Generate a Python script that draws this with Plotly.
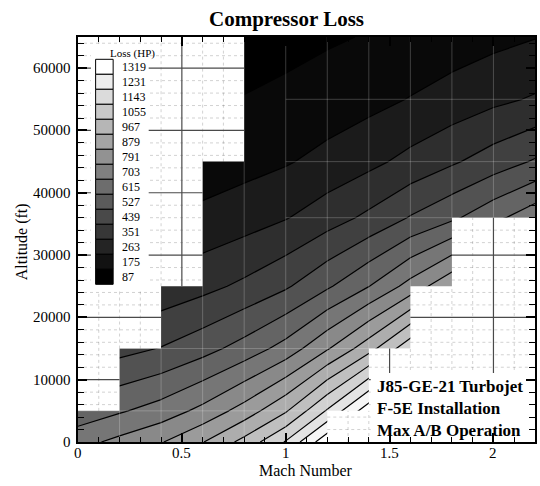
import plotly.graph_objects as go

# ---------------- data ----------------
mach = [0.0, 0.2, 0.4, 0.6, 0.8, 1.0, 1.2, 1.4, 1.6, 1.8, 2.0, 2.2]
altitude_ft = [0, 5000, 15000, 25000, 36000, 45000, 55000, 65000]

# compressor loss (HP): one row per altitude, one column per Mach number
loss_hp = [
    [672, 727, 785, 875, 995, 1150, 1385, 1651, 1982, 2330, 2700, 3080],
    [559, 605, 653, 728, 828, 957, 1152, 1374, 1649, 1939, 2246, 2563],
    [379, 410, 443, 494, 562, 649, 782, 932, 1118, 1315, 1524, 1738],
    [249, 270, 291, 325, 369, 427, 514, 613, 736, 865, 1002, 1143],
    [151, 163, 176, 196, 223, 258, 311, 370, 445, 510, 590, 672],
    [98, 106, 114, 127, 145, 167, 202, 240, 289, 339, 393, 448],
    [60.5, 65.5, 70.7, 78.8, 89.6, 103.6, 124.8, 148.8, 178.6, 209.9, 243.3, 272],
    [37.4, 40.5, 43.7, 48.7, 55.4, 64.1, 77.1, 92.0, 110.4, 129.8, 150.4, 171.6],
]

loss_levels = [87, 175, 263, 351, 439, 527, 615, 703, 791, 879, 967, 1055, 1143, 1231, 1319]

# operating envelope, one entry per Mach interval
env_mach_lo = [0.0, 0.2, 0.4, 0.6, 0.8, 1.0, 1.2, 1.4, 1.6, 1.8, 2.0]
env_mach_hi = [0.2, 0.4, 0.6, 0.8, 1.0, 1.2, 1.4, 1.6, 1.8, 2.0, 2.2]
env_alt_floor = [0, 0, 0, 0, 0, 0, 5000, 15000, 25000, 36000, 36000]
env_alt_ceiling = [5000, 15000, 25000, 45000, 65000, 65000, 65000, 65000, 65000, 65000, 65000]

# computational mesh rows shown over the flood: altitude and first Mach
mesh_row_alt = [5000, 15000, 36000, 45000, 55000]
mesh_row_from_mach = [0.0, 0.2, 1.0, 1.0, 1.0]

x_tick_vals = [0, 0.5, 1, 1.5, 2]
x_tick_text = ["0", "0.5", "1", "1.5", "2"]
y_tick_vals = [0, 10000, 20000, 30000, 40000, 50000, 60000]
y_tick_text = ["0", "10000", "20000", "30000", "40000", "50000", "60000"]
x_minor_step = 0.1
y_minor_step = 2000

# ---------------- geometry ----------------
W, H = 540, 486
ML, MR, MT, MB = 78, 3, 37, 44
PW, PH = W - ML - MR, H - MT - MB
X_MAX, Y_MAX = 2.2, 65000
FONT = "Liberation Serif"
EPS = 1e-9


def px_x(px):
    return (px - ML) / PW


def px_y(py):
    return (H - MB - py) / PH


def px_to_mach(px):
    return (px - ML) / PW * X_MAX


def px_to_alt(py):
    return (H - MB - py) / PH * Y_MAX


def bands_at(m):
    return [i for i in range(len(env_mach_lo))
            if env_mach_lo[i] - EPS <= m <= env_mach_hi[i] + EPS]


def vertical_outside(m):
    ids = bands_at(m)
    lo = min(env_alt_floor[i] for i in ids)
    hi = max(env_alt_ceiling[i] for i in ids)
    segs = []
    if lo > 0:
        segs.append((0, lo))
    if hi < Y_MAX:
        segs.append((hi, Y_MAX))
    return segs


def vertical_inside(m):
    ids = bands_at(m)
    lo = max(env_alt_floor[i] for i in ids)
    hi = min(env_alt_ceiling[i] for i in ids)
    return [(lo, hi)] if hi > lo else []


def horizontal_runs(a, outside=True, start=0.0):
    runs = []
    for i in range(len(env_mach_lo)):
        if env_mach_hi[i] <= start + EPS:
            continue
        if outside:
            keep = a > env_alt_ceiling[i] or a < env_alt_floor[i]
        else:
            keep = env_alt_floor[i] <= a <= env_alt_ceiling[i]
        if keep:
            x0, x1 = max(env_mach_lo[i], start), env_mach_hi[i]
            if runs and abs(runs[-1][1] - x0) < EPS:
                runs[-1] = (runs[-1][0], x1)
            else:
                runs.append((x0, x1))
    return runs


def polyline(vlines, hlines):
    xs, ys = [], []
    for m, segs in vlines:
        for a0, a1 in segs:
            xs += [m, m, None]
            ys += [a0, a1, None]
    for a, runs in hlines:
        for m0, m1 in runs:
            xs += [m0, m1, None]
            ys += [a, a, None]
    return xs, ys


# ---------------- colours ----------------
n_lv = len(loss_levels)
band_gray = [0] + [round(255 * (k - 0.5) / (n_lv - 1)) for k in range(1, n_lv)] + [255]
colorscale = [[k / (len(band_gray) - 1), f"rgb({g},{g},{g})"] for k, g in enumerate(band_gray)]


def level_gray(v):
    g = round(255 * (v - loss_levels[0]) / (loss_levels[-1] - loss_levels[0]))
    return f"rgb({g},{g},{g})"


fig = go.Figure()

# flooded contour of the loss field
fig.add_trace(go.Contour(
    x=mach, y=altitude_ft, z=loss_hp,
    autocontour=False,
    contours=dict(start=loss_levels[0], end=loss_levels[-1],
                  size=loss_levels[1] - loss_levels[0],
                  coloring="fill", showlines=True),
    colorscale=colorscale, showscale=False,
    line=dict(color="black", width=1.2, smoothing=0),
    hoverinfo="skip",
))

# mesh lines over the flood
mesh_v = [(m, vertical_inside(m)) for m in mach[1:-1]]
mesh_h = [(a, horizontal_runs(a, outside=False, start=s))
          for a, s in zip(mesh_row_alt, mesh_row_from_mach)]
mx, my = polyline(mesh_v, mesh_h)
fig.add_trace(go.Scatter(x=mx, y=my, mode="lines", hoverinfo="skip",
                         line=dict(color="rgba(255,255,255,0.22)", width=1)))

# blank out everything outside the envelope
top_x, top_y = [-0.02], [Y_MAX + 1000]
bot_x, bot_y = [-0.02], [-1000]
for i in range(len(env_mach_lo)):
    x0 = env_mach_lo[i] if i > 0 else -0.02
    x1 = env_mach_hi[i] if i < len(env_mach_lo) - 1 else X_MAX + 0.02
    top_x += [x0, x1]
    top_y += [env_alt_ceiling[i], env_alt_ceiling[i]]
    bot_x += [x0, x1]
    bot_y += [env_alt_floor[i], env_alt_floor[i]]
top_x += [X_MAX + 0.02, -0.02]
top_y += [Y_MAX + 1000, Y_MAX + 1000]
bot_x += [X_MAX + 0.02, -0.02]
bot_y += [-1000, -1000]
for px_, py_ in ((top_x, top_y), (bot_x, bot_y)):
    fig.add_trace(go.Scatter(x=px_, y=py_, mode="lines", fill="toself",
                             fillcolor="white", line=dict(width=0, color="white"),
                             hoverinfo="skip"))

# grid lines in the blank region
major_x = [v for v in x_tick_vals if 0 < v < X_MAX]
major_y = [v for v in y_tick_vals if 0 < v < Y_MAX]
minor_x = [round(k * x_minor_step, 3) for k in range(1, int(round(X_MAX / x_minor_step)))]
minor_x = [v for v in minor_x if all(abs(v - t) > EPS for t in major_x)]
minor_y = [k * y_minor_step for k in range(1, int(Y_MAX // y_minor_step) + 1)]
minor_y = [v for v in minor_y if v < Y_MAX and v not in major_y]

nx, ny = polyline([(m, vertical_outside(m)) for m in minor_x],
                  [(a, horizontal_runs(a)) for a in minor_y])
fig.add_trace(go.Scatter(x=nx, y=ny, mode="lines", hoverinfo="skip",
                         line=dict(color="rgba(0,0,0,0.18)", width=1, dash="dot")))
gx, gy = polyline([(m, vertical_outside(m)) for m in major_x],
                  [(a, horizontal_runs(a)) for a in major_y])
fig.add_trace(go.Scatter(x=gx, y=gy, mode="lines", hoverinfo="skip",
                         line=dict(color="#4a4a4a", width=1.2)))

# clear panel behind the engine note
nx0, nx1 = px_to_mach(372), X_MAX + 0.02
ny0, ny1 = -1000, px_to_alt(373)
fig.add_trace(go.Scatter(x=[nx0, nx1, nx1, nx0, nx0], y=[ny0, ny0, ny1, ny1, ny0],
                         mode="lines", fill="toself", fillcolor="white",
                         line=dict(width=0, color="white"), hoverinfo="skip"))

shapes = []
annotations = []

# tick labels
tick_font = dict(family=FONT, size=15, color="black")
for v, t in zip(x_tick_vals, x_tick_text):
    annotations.append(dict(xref="x", yref="paper", x=v, y=px_y(453),
                            xanchor="center", yanchor="middle", showarrow=False,
                            text=t, font=tick_font))
for v, t in zip(y_tick_vals, y_tick_text):
    annotations.append(dict(xref="paper", yref="y", x=px_x(73), y=v,
                            xanchor="right", yanchor="middle", showarrow=False,
                            text=t, font=tick_font))

# contour legend
shapes.append(dict(type="rect", xref="paper", yref="paper",
                   x0=px_x(91), x1=px_x(149), y0=px_y(291), y1=px_y(44),
                   fillcolor="white", line=dict(width=0), layer="above"))
box_h = 15.0
box_top = 59.3
for j, lv in enumerate(reversed(loss_levels)):
    t = box_top + j * box_h
    shapes.append(dict(type="rect", xref="paper", yref="paper",
                       x0=px_x(95.7), x1=px_x(113.3), y0=px_y(t + box_h), y1=px_y(t),
                       fillcolor=level_gray(lv), line=dict(color="black", width=1),
                       layer="above"))
    annotations.append(dict(xref="paper", yref="paper", x=px_x(120.5), y=px_y(t + box_h / 2),
                            xanchor="left", yanchor="middle", showarrow=False,
                            text=str(lv), font=dict(family=FONT, size=12, color="black")))
annotations.append(dict(xref="paper", yref="paper", x=px_x(133), y=px_y(53),
                        xanchor="center", yanchor="middle", showarrow=False,
                        text="Loss (HP)", font=dict(family=FONT, size=11, color="black")))

# titles
annotations.append(dict(xref="paper", yref="paper", x=px_x(287), y=px_y(19),
                        xanchor="center", yanchor="middle", showarrow=False,
                        text="<b>Compressor Loss</b>",
                        font=dict(family=FONT, size=21, color="black")))
annotations.append(dict(xref="paper", yref="paper", x=px_x(307), y=px_y(470),
                        xanchor="center", yanchor="middle", showarrow=False,
                        text="Mach Number", font=dict(family=FONT, size=16, color="black")))
annotations.append(dict(xref="paper", yref="paper", x=px_x(22), y=px_y(242),
                        xanchor="center", yanchor="middle", showarrow=False, textangle=-90,
                        text="Altitude (ft)", font=dict(family=FONT, size=16, color="black")))

# engine note
annotations.append(dict(xref="paper", yref="paper", x=px_x(376), y=px_y(408),
                        xanchor="left", yanchor="middle", showarrow=False, align="left",
                        text="<b>J85-GE-21 Turbojet</b><br><b>F-5E Installation</b><br>"
                             "<b>Max A/B Operation</b>",
                        font=dict(family=FONT, size=17, color="black")))

axis_common = dict(
    showline=True, linecolor="black", linewidth=2, mirror="ticks",
    ticks="inside", ticklen=9, tickwidth=2, tickcolor="black",
    showgrid=False, zeroline=False, showticklabels=False,
)

fig.update_layout(
    width=W, height=H,
    margin=dict(l=ML, r=MR, t=MT, b=MB, pad=0),
    paper_bgcolor="white", plot_bgcolor="white",
    showlegend=False, hovermode=False,
    xaxis=dict(range=[0, X_MAX], tickmode="array", tickvals=x_tick_vals,
               minor=dict(tickmode="linear", tick0=0, dtick=x_minor_step, ticks="inside",
                          ticklen=5, tickwidth=1, tickcolor="black", showgrid=False),
               **axis_common),
    yaxis=dict(range=[0, Y_MAX], tickmode="array", tickvals=y_tick_vals,
               minor=dict(tickmode="linear", tick0=0, dtick=y_minor_step, ticks="inside",
                          ticklen=6, tickwidth=1, tickcolor="black", showgrid=False),
               **axis_common),
    shapes=shapes,
    annotations=annotations,
)

fig.write_html("out.html")
